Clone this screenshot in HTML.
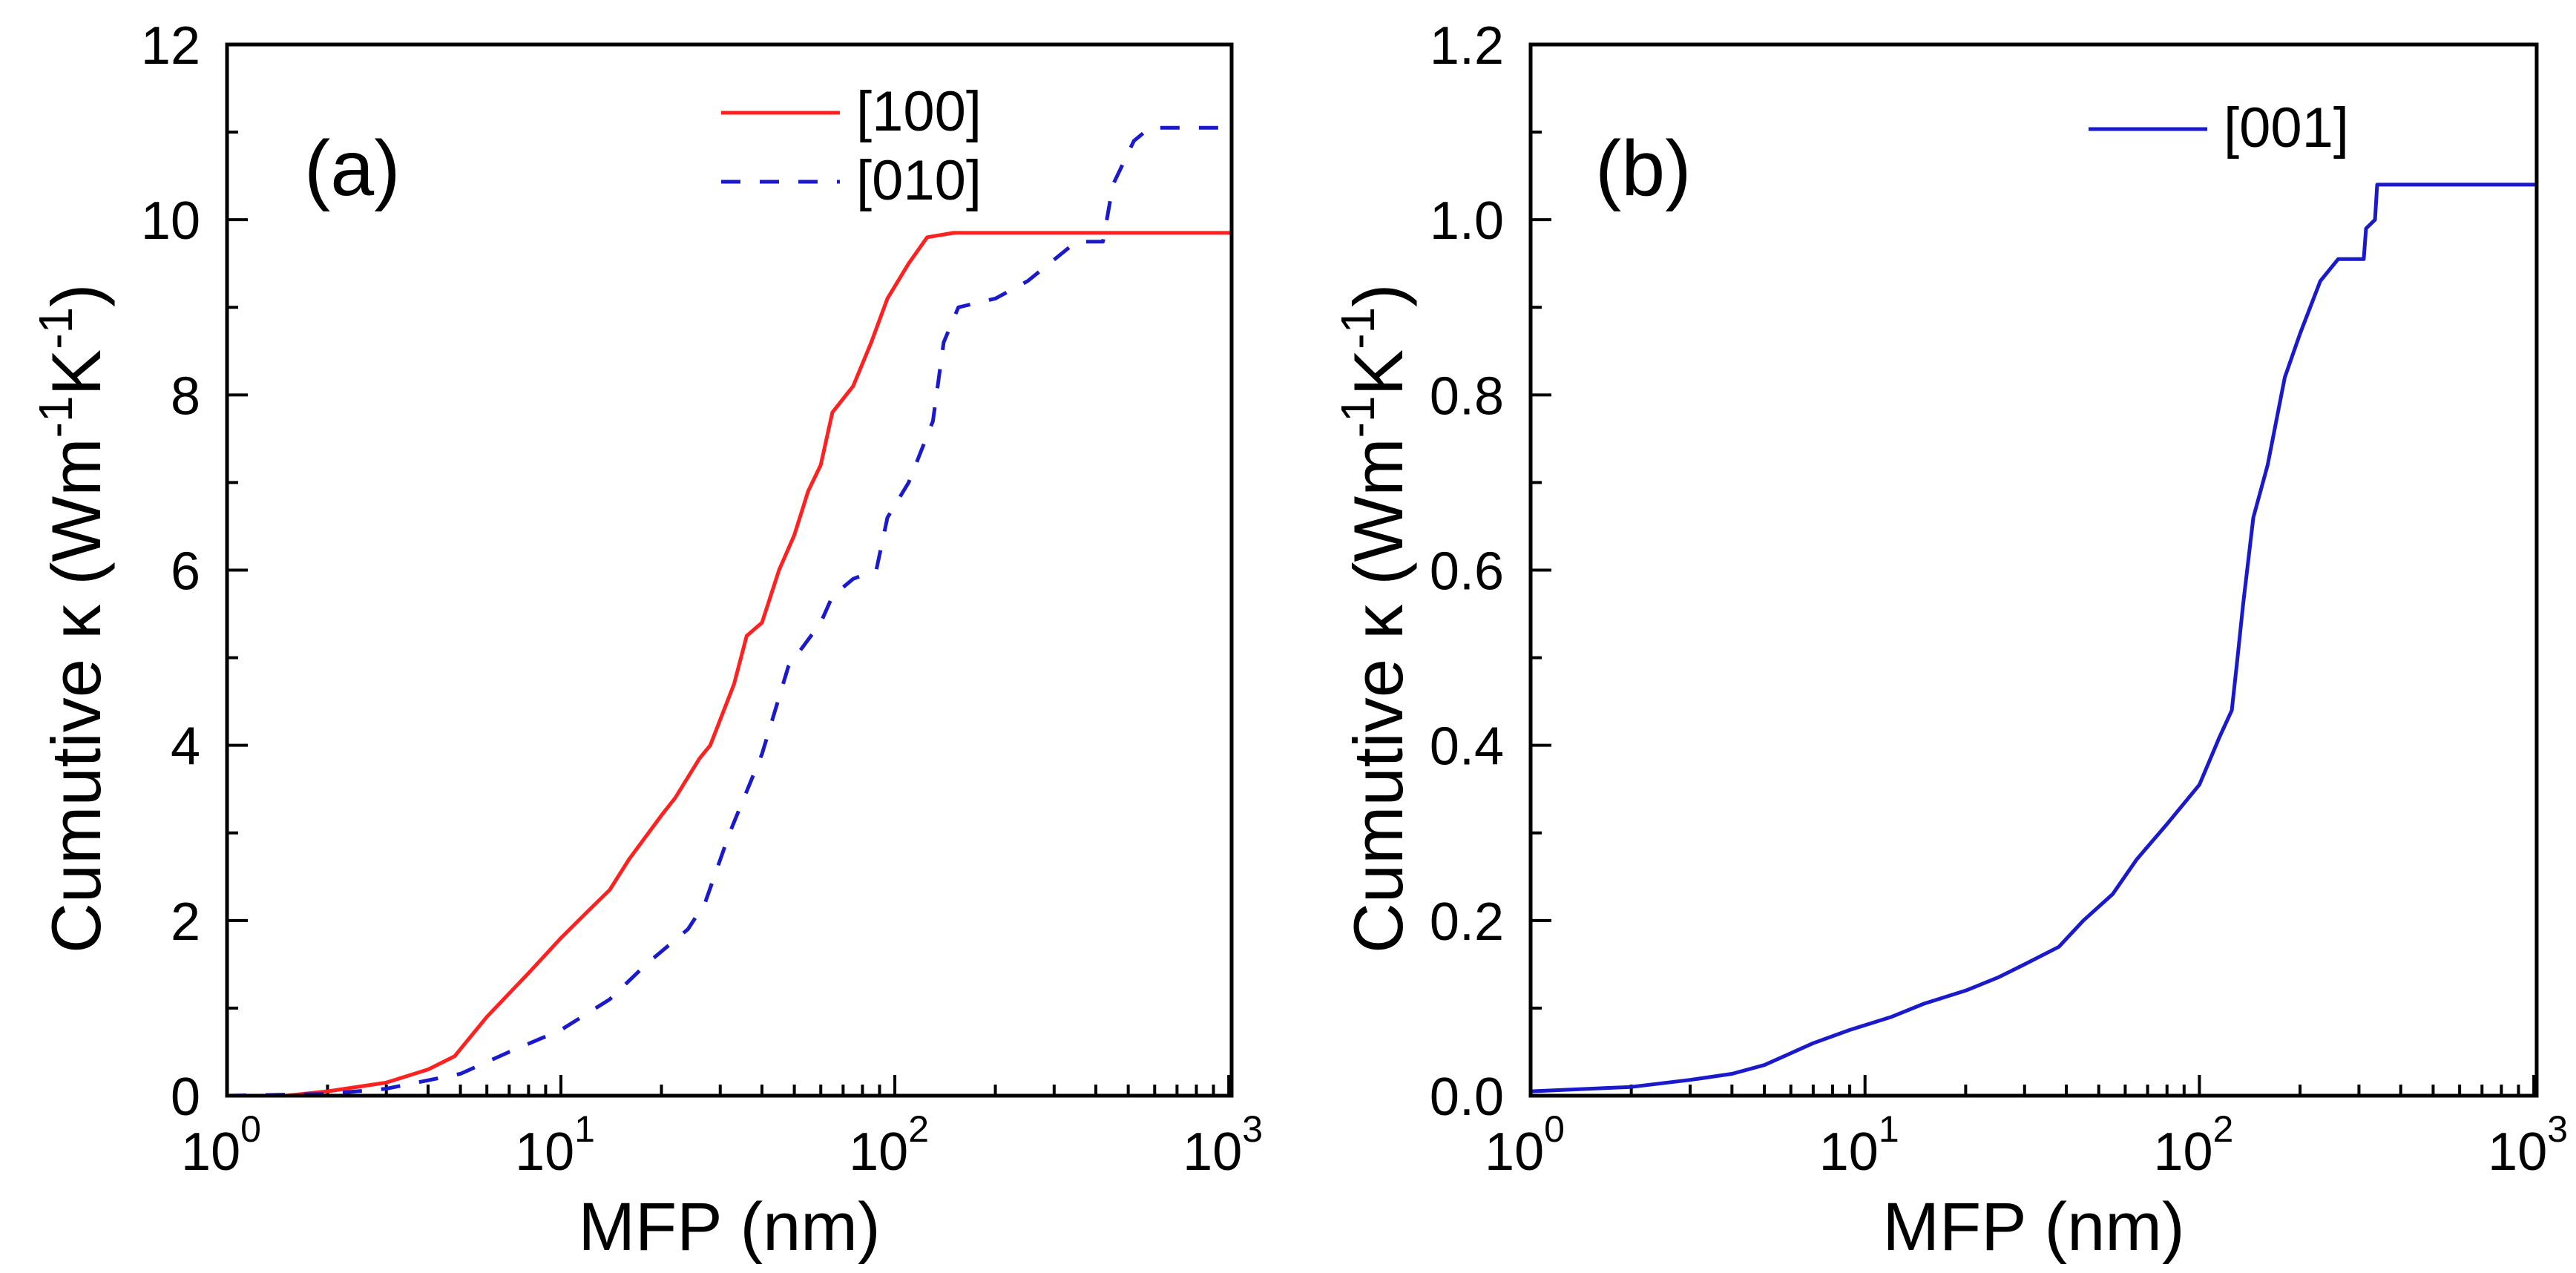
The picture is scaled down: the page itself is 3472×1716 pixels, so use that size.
<!DOCTYPE html>
<html><head><meta charset="utf-8"><style>
html,body{margin:0;padding:0;background:#fff;}
svg{display:block;font-family:"Liberation Sans",Arial,sans-serif;}
</style></head><body>
<svg id="fig" width="3472" height="1716" viewBox="0 0 3472 1716" xmlns="http://www.w3.org/2000/svg">
<rect width="3472" height="1716" fill="#fff"/>
</svg>
<script>
// Panel (a) data
const aX100 = [1,1.5,2,3,4,4.8,6,8,10,12,14,16,20,22,26,28,33,36,40,45,50,55,60,65,75,85,95,110,125,150,1050];
const aY100 = [0,0,0.05,0.15,0.3,0.45,0.9,1.4,1.8,2.1,2.35,2.7,3.2,3.4,3.85,4.0,4.7,5.25,5.4,6.0,6.4,6.9,7.2,7.8,8.1,8.6,9.1,9.5,9.8,9.85,9.85];
const aX010 = [1,2,3,5,7,10,14,18,24,27,32,40,48,60,65,75,88,95,110,130,140,155,200,250,350,420,450,520,580,1050];
const aY010 = [0,0.02,0.08,0.25,0.5,0.75,1.1,1.5,1.9,2.2,3.0,3.9,4.9,5.4,5.7,5.9,6.0,6.6,7.0,7.7,8.6,9.0,9.1,9.3,9.75,9.75,10.4,10.9,11.05,11.05];
// Panel (b) data
const bX001 = [1,2,3,4,5,7,9,12,15,20,25,30,38,45,55,65,80,100,115,125,130,135,145,160,180,200,230,260,310,315,335,340,500,1050];
const bY001 = [0.005,0.01,0.018,0.025,0.035,0.06,0.075,0.09,0.105,0.12,0.135,0.15,0.17,0.2,0.23,0.27,0.31,0.355,0.41,0.44,0.5,0.56,0.66,0.72,0.82,0.87,0.93,0.955,0.955,0.99,1.0,1.04,1.04,1.04];
const aYTicks = ["0","2","4","6","8","10","12"];
const bYTicks = ["0.0","0.2","0.4","0.6","0.8","1.0","1.2"];
const xTickExp = ["0","1","2","3"];

const NS = "http://www.w3.org/2000/svg";
const svg = document.getElementById('fig');
function mk(tag, attrs, parent){
  const e = document.createElementNS(NS, tag);
  for (const k in attrs) e.setAttribute(k, attrs[k]);
  (parent||svg).appendChild(e);
  return e;
}

function panel(o){
  const g = mk('g', {});
  
  
  const L=o.left, R=o.right, T=60, B=1477;
  const xmin=0, xmax=Math.log10(1020);
  const sx = v => L + (Math.log10(v)-xmin)/(xmax-xmin)*(R-L);
  const sy = v => B - v/o.ymax*(B-T);
  // y ticks
  const nMaj = o.yTicks.length;
  for (let i=0;i<nMaj;i++){
    const val = o.ymax*i/(nMaj-1);
    const y = sy(val);
    const t = mk('line',{x1:L,x2:L+28,y1:y,y2:y,stroke:'#000','stroke-width':4},g);
    
    
    if (i<nMaj-1){
      const ym = sy(val + o.ymax/(nMaj-1)/2);
      const tm = mk('line',{x1:L,x2:L+15,y1:ym,y2:ym,stroke:'#000','stroke-width':4},g);
      
      
    }
    const tx = mk('text',{x:L-36,y:y+26,'font-size':72,'text-anchor':'end',fill:'#000'},g);
    tx.textContent = o.yTicks[i];
    
    
  }
  // x ticks
  for (let d=0; d<xTickExp.length; d++){
    const base = Math.pow(10,d);
    const x = sx(base);
    const t = mk('line',{x1:x,x2:x,y1:B,y2:B-28,stroke:'#000','stroke-width':4},g);
    
    
    const tx = mk('text',{x:x-8,y:1577,'font-size':72,'text-anchor':'middle',fill:'#000'},g);
    
    
    const t1 = mk('tspan',{},tx); t1.textContent='10';
    const t2 = mk('tspan',{'font-size':50,dy:-38},tx); t2.textContent=xTickExp[d];
    if (d<3) for (let m=2;m<=9;m++){
      const xm = sx(base*m);
      const tm = mk('line',{x1:xm,x2:xm,y1:B,y2:B-15,stroke:'#000','stroke-width':4},g);
      
      
    }
  }
  // series
  o.series.forEach(s=>{
    let d='';
    s.x.forEach((v,i)=>{ const xx=Math.min(sx(v),R); d += (i?'L':'M')+xx.toFixed(1)+' '+sy(s.y[i]).toFixed(1); });
    const p = mk('path',{d:d,fill:'none',stroke:s.color,'stroke-width':5,'stroke-linejoin':'round'},g);
    if (s.dash) p.setAttribute('stroke-dasharray',s.dash);
    
    
    // legend
    const lg = mk('line',{x1:s.lx1,x2:s.lx2,y1:s.ly,y2:s.ly,stroke:s.color,'stroke-width':5},g);
    if (s.dash) lg.setAttribute('stroke-dasharray',s.dash);
    
    
    const lt = mk('text',{x:s.lx2+22,y:s.ly+24,'font-size':76,fill:'#000'},g);
    lt.textContent = s.label;
    
    
  });
  // frame
  const fr = mk('rect',{x:L,y:T,width:R-L,height:B-T,fill:'none',stroke:'#000','stroke-width':5},g);
  
  
  // panel label
  const pl = mk('text',{x:o.labX,y:263,'font-size':106,fill:'#000'},g);
  pl.textContent = o.label;
  
  
  // x title
  const xt = mk('text',{x:(L+R)/2,y:1685,'font-size':92,'text-anchor':'middle',fill:'#000'},g);
  xt.textContent = 'MFP (nm)';
  
  
  // y title
  const yt = mk('text',{x:0,y:0,'font-size':94,fill:'#000',transform:`translate(${o.ytX},1285) rotate(-90)`},g);
  
  
  const a = mk('tspan',{},yt); a.textContent='Cumutive κ (Wm';
  const b = mk('tspan',{'font-size':64,dy:-38},yt); b.textContent='-1';
  const c = mk('tspan',{dy:38},yt); c.textContent='K';
  const d2 = mk('tspan',{'font-size':64,dy:-38},yt); d2.textContent='-1';
  const e = mk('tspan',{dy:38},yt); e.textContent=')';
}

panel({name:'panel-a', left:306, right:1660, ymax:12, yTicks:aYTicks, label:'(a)', labX:410, ytX:135,
  series:[
    {x:aX100,y:aY100,color:'#ff2020',label:'[100]',lx1:972,lx2:1132,ly:152},
    {x:aX010,y:aY010,color:'#1a1acc',dash:'26 26',label:'[010]',lx1:972,lx2:1132,ly:245}
  ]});
panel({name:'panel-b', left:2063, right:3419, ymax:1.2, yTicks:bYTicks, label:'(b)', labX:2150, ytX:1890,
  series:[
    {x:bX001,y:bY001,color:'#1a1acc',label:'[001]',lx1:2815,lx2:2975,ly:174}
  ]});
</script>
</body></html>
